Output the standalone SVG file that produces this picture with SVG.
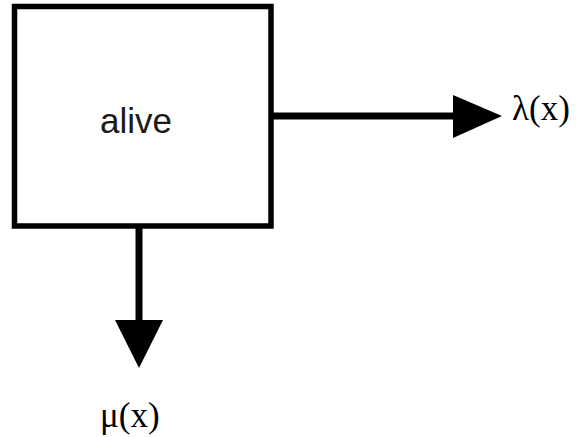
<svg xmlns="http://www.w3.org/2000/svg" width="576" height="437" viewBox="0 0 576 437">
  <style>
    .box { fill: #ffffff; stroke: #000000; stroke-width: 5.5; }
    .edge { stroke: #000000; stroke-width: 7; fill: none; }
    .head { fill: #000000; stroke: none; }
    .label { font-family: "Liberation Sans", Arial, sans-serif; font-size: 35px; fill: #1a1a1a; }
    .rate { font-family: "Liberation Serif", "Times New Roman", serif; font-size: 35px; fill: #000000; }
  </style>
  <rect width="576" height="437" fill="#ffffff"/>
  <g id="connectors">
    <line class="edge" x1="273" y1="116" x2="456" y2="116"/>
    <polygon class="head" points="453,95 502,116 453,138"/>
    <line class="edge" x1="139" y1="228" x2="139" y2="323"/>
    <polygon class="head" points="115,320 163,320 139,368"/>
  </g>
  <g id="alive">
    <rect class="box" x="14.5" y="6.5" width="256.5" height="219.5"/>
    <text class="label" x="136" y="133" text-anchor="middle">alive</text>
  </g>
  <g id="lambda">
    <text class="rate" x="512" y="120">λ(x)</text>
  </g>
  <g id="mu">
    <text class="rate" x="100" y="427">μ(x)</text>
  </g>
</svg>
